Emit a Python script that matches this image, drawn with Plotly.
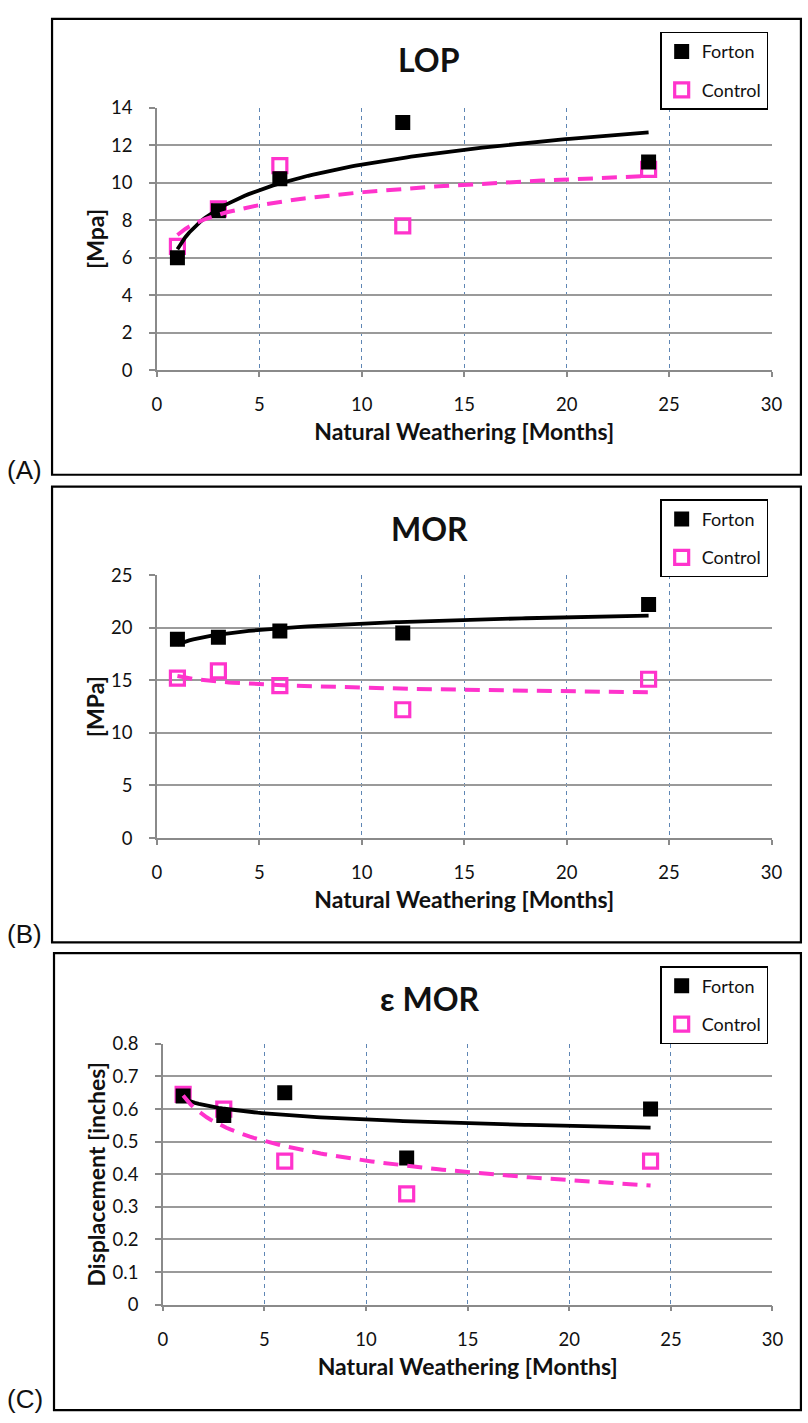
import numpy as np
import plotly.graph_objects as go

# ---------------- data ----------------
months = [1, 3, 6, 12, 24]

lop_forton = [6.0, 8.5, 10.2, 13.2, 11.1]
lop_control = [6.6, 8.6, 10.9, 7.7, 10.7]

mor_forton = [18.9, 19.1, 19.7, 19.5, 22.2]
mor_control = [15.2, 15.9, 14.5, 12.2, 15.1]

emor_forton = [0.64, 0.58, 0.65, 0.45, 0.60]
emor_control = [0.645, 0.60, 0.44, 0.34, 0.44]

panel_titles = ["LOP", "MOR", "\u03b5 MOR"]
y_titles = ["[Mpa]", "[MPa]", "Displacement [inches]"]
x_title = "Natural Weathering [Months]"
panel_tags = ["(A)", "(B)", "(C)"]
y_ranges = [[0, 14], [0, 25], [0, 0.8]]
y_dticks = [2, 5, 0.1]

# ---------------- layout helpers (pixel -> paper) ----------------
W, H = 808, 1423


def px(x):
    return x / W


def py(y):
    return 1 - y / H


FONT = "Lato"
PINK = "#FF33CC"
GRID_H = "#9A9A9A"
GRID_V = "#5E86B4"
AXIS = "#8A8A8A"

# plot-area pixel boxes: (left, right, top, bottom)
boxes = [(155, 782, 97, 364), (155, 782, 572, 839), (161, 783, 1048, 1313)]
# panel frame boxes
frames = [(48, 812, 7, 470), (48, 812, 482, 945), (50, 812, 956, 1420)]
title_y = [48, 525, 1002]
legend_top = [20, 495, 969]
tag_y = [465, 936, 1409]

fig = go.Figure()

series = [(lop_forton, lop_control), (mor_forton, mor_control), (emor_forton, emor_control)]
lx = np.log(np.array(months, dtype=float))
xs = np.linspace(1, 24, 120)

for i, (forton, control) in enumerate(series):
    n = "" if i == 0 else str(i + 1)
    xa, ya = "x" + n, "y" + n
    leg = "legend" + n

    # markers: Control first so Forton is drawn on top
    fig.add_trace(go.Scatter(x=months, y=control, mode="markers", name="Control",
                             marker=dict(symbol="square-open", size=14, color=PINK,
                                         line=dict(color=PINK, width=3.2)),
                             xaxis=xa, yaxis=ya, legend=leg, legendgroup="c" + n,
                             legendrank=2))
    fig.add_trace(go.Scatter(x=months, y=forton, mode="markers", name="Forton",
                             marker=dict(symbol="square", size=15, color="black"),
                             xaxis=xa, yaxis=ya, legend=leg, legendgroup="f" + n,
                             legendrank=1))

    # logarithmic trendlines (least squares on ln x, as Excel does)
    bf, af = np.polyfit(lx, np.array(forton), 1)
    bc, ac = np.polyfit(lx, np.array(control), 1)
    fig.add_trace(go.Scatter(x=xs, y=af + bf * np.log(xs), mode="lines",
                             line=dict(color="black", width=3.8),
                             xaxis=xa, yaxis=ya, showlegend=False, hoverinfo="skip"))
    fig.add_trace(go.Scatter(x=xs, y=ac + bc * np.log(xs), mode="lines",
                             line=dict(color=PINK, width=4, dash="15px,9px"),
                             xaxis=xa, yaxis=ya, showlegend=False, hoverinfo="skip"))

    l, r, t, b = boxes[i]
    xkey = "xaxis" + n
    ykey = "yaxis" + n
    fig.layout[xkey] = dict(
        domain=[px(l), px(r)], anchor=ya, range=[0, 30], dtick=5, tick0=0,
        showgrid=True, gridcolor=GRID_V, gridwidth=1, griddash="4px,4px",
        showline=True, linecolor=AXIS, linewidth=1.5, zeroline=False,
        ticks="outside", ticklen=5, tickcolor=AXIS, tickwidth=1.5,
        ticklabelstandoff=12,
        tickfont=dict(family=FONT, size=18.5, color="#111"),
        title=dict(text="<b>" + x_title + "</b>", standoff=10,
                   font=dict(family=FONT, size=23, color="#111")),
        fixedrange=True,
    )
    fig.layout[ykey] = dict(
        domain=[py(b), py(t)], anchor=xa, range=y_ranges[i], dtick=y_dticks[i], tick0=0,
        showgrid=True, gridcolor=GRID_H, gridwidth=1.5,
        showline=True, linecolor=AXIS, linewidth=1.5, zeroline=False,
        ticks="outside", ticklen=6, tickcolor=AXIS, tickwidth=1.5,
        ticklabelstandoff=13,
        tickfont=dict(family=FONT, size=18.5, color="#111"),
        title=dict(text="<b>" + y_titles[i] + "</b>", standoff=0,
                   font=dict(family=FONT, size=23, color="#111")),
        fixedrange=True,
    )

    fig.layout[leg] = dict(
        x=px(723.5), xanchor="center", y=py(legend_top[i]), yanchor="top",
        bgcolor="white", bordercolor="black", borderwidth=1.5,
        font=dict(family=FONT, size=18, color="#111"),
        traceorder="grouped", tracegroupgap=12, itemwidth=30,
    )

    # panel frame
    fl, fr, ft, fb = frames[i]
    fig.add_shape(type="rect", xref="paper", yref="paper",
                  x0=px(fl), x1=px(fr), y0=py(fb), y1=py(ft),
                  line=dict(color="black", width=2.2), fillcolor="rgba(0,0,0,0)", layer="below")

    # chart title
    fig.add_annotation(text="<b>" + panel_titles[i] + "</b>", xref="paper", yref="paper",
                       x=px(433), y=py(title_y[i]), xanchor="center", yanchor="middle",
                       showarrow=False, font=dict(family=FONT, size=32, color="#111"))
    # panel tag
    fig.add_annotation(text=panel_tags[i], xref="paper", yref="paper",
                       x=px(0), y=py(tag_y[i]), xanchor="left", yanchor="middle",
                       showarrow=False, font=dict(family="Liberation Sans", size=26, color="#111"))

fig.update_layout(
    width=W, height=H,
    margin=dict(l=0, r=0, t=0, b=0),
    paper_bgcolor="white", plot_bgcolor="white",
    font=dict(family=FONT, color="#111"),
)

fig.write_html("out.html", config={"displayModeBar": False},
               post_script="document.body.style.margin='0';document.body.style.overflow='hidden';")
